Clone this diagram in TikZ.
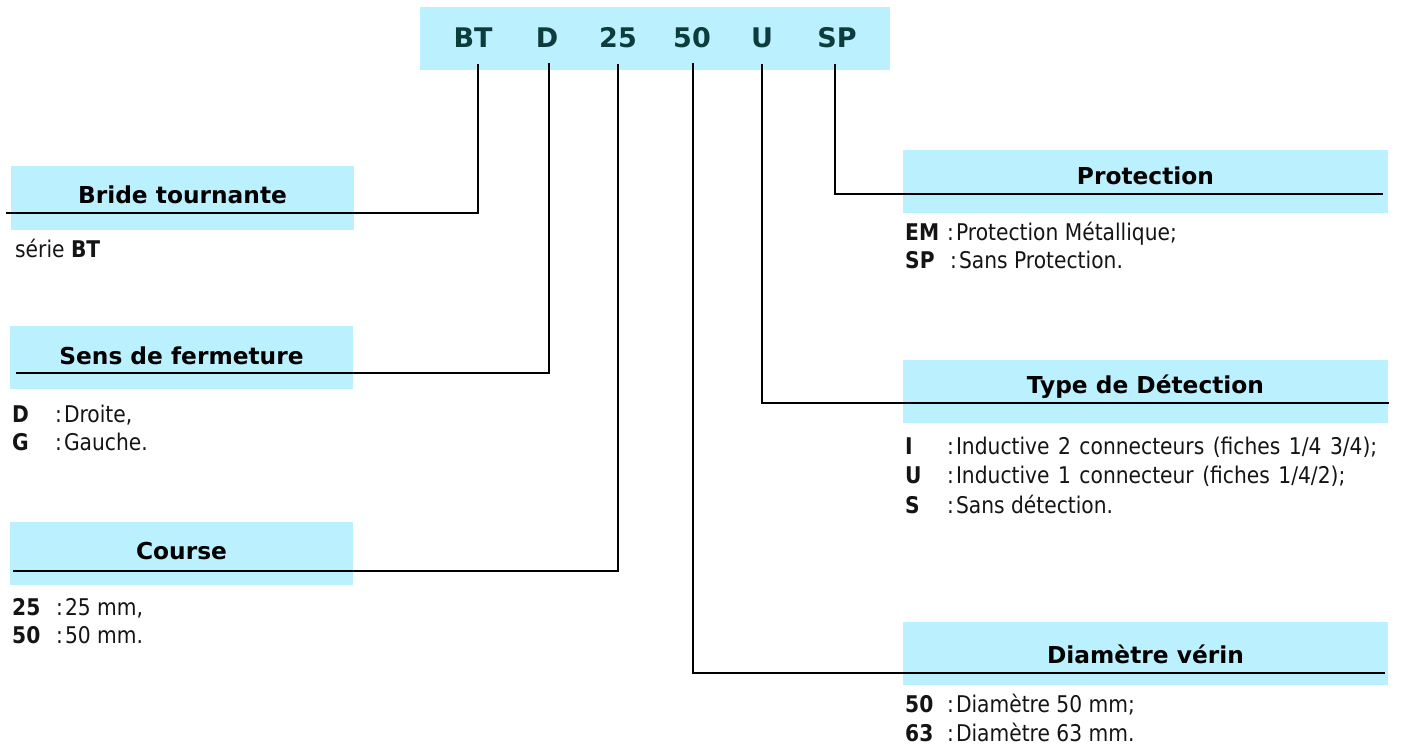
\documentclass[tikz,border=0pt]{standalone}
\usepackage{fontspec}
\setmainfont{DejaVu Sans}
\newfontfamily\descfont[FakeStretch=0.88]{DejaVu Sans}
\definecolor{boxblue}{RGB}{187,240,255}
\definecolor{codecol}{RGB}{12,60,60}
\definecolor{txt}{RGB}{20,20,20}
\tikzset{
  bluebox/.style={fill=boxblue, draw=none, inner sep=0pt, anchor=north west},
  codetxt/.style={font=\fontsize{27}{27}\selectfont\bfseries, text=codecol, anchor=base, inner sep=0pt},
  titletxt/.style={font=\fontsize{23.3}{23.3}\selectfont\bfseries, text=black, anchor=base, inner sep=0pt},
  lbl/.style={font=\descfont\fontsize{23}{23}\selectfont\bfseries, text=txt, anchor=base west, inner sep=0pt},
  desc/.style={font=\descfont\fontsize{23}{23}\selectfont, text=txt, anchor=base west, inner sep=0pt},
  conn/.style={draw=black, line width=2pt},
}
\begin{document}
\begin{tikzpicture}[x=1pt,y=-1pt]
\useasboundingbox (0,0) rectangle (1409,744);
% top code bar
\node[bluebox, minimum width=470pt, minimum height=63pt] (bar) at (420,7) {};
\node[codetxt] (cBT) at (473,47) {BT};
\node[codetxt] (cD) at (547,47) {D};
\node[codetxt] (c25) at (618,47) {25};
\node[codetxt] (c50) at (692,47) {50};
\node[codetxt] (cU) at (762,47) {U};
\node[codetxt] (cSP) at (837,47) {SP};
% left boxes
\node[bluebox, minimum width=343pt, minimum height=64pt] (bBride) at (11,166) {};
\node[titletxt] (tBride) at (182.5,203) {Bride tournante};
\node[desc] (dBT) at (15,257) {série \textbf{BT}};

\node[bluebox, minimum width=343pt, minimum height=63pt] (bSens) at (10,326) {};
\node[titletxt] (tSens) at (181.5,364) {Sens de fermeture};
\node[lbl] (lD) at (12,422) {D};
\node[desc] (dD) at (55,422) {:\hspace{2pt}Droite,};
\node[lbl] (lG) at (12,450) {G};
\node[desc] (dG) at (55,450) {:\hspace{2pt}Gauche.};

\node[bluebox, minimum width=343pt, minimum height=63pt] (bCourse) at (10,522) {};
\node[titletxt] (tCourse) at (181.5,559) {Course};
\node[lbl] (l25) at (12,615) {25};
\node[desc] (d25) at (56,615) {:\hspace{2pt}25 mm,};
\node[lbl] (l50) at (12,643) {50};
\node[desc] (d50) at (56,643) {:\hspace{2pt}50 mm.};

% right boxes
\node[bluebox, minimum width=485pt, minimum height=63pt] (bProt) at (903,150) {};
\node[titletxt] (tProt) at (1145.5,184) {Protection};
\node[lbl] (lEM) at (905,240) {EM};
\node[desc] (dEM) at (947,240) {:\hspace{2pt}Protection Métallique;};
\node[lbl] (lSP) at (905,268) {SP};
\node[desc] (dSP) at (950,268) {:\hspace{2pt}Sans Protection.};

\node[bluebox, minimum width=485pt, minimum height=63pt] (bType) at (903,360) {};
\node[titletxt] (tType) at (1145.5,393) {Type de Détection};
\node[lbl] (lI) at (905,454) {I};
\node[desc] (dI) at (947,454) {\spaceskip=8.5pt :\hspace{2pt}Inductive 2 connecteurs (fiches 1/4 3/4);};
\node[lbl] (lU) at (905,483) {U};
\node[desc] (dU) at (947,483) {\spaceskip=8.5pt :\hspace{2pt}Inductive 1 connecteur (fiches 1/4/2);};
\node[lbl] (lS) at (905,513) {S};
\node[desc] (dS) at (947,513) {:\hspace{2pt}Sans détection.};

\node[bluebox, minimum width=485pt, minimum height=63pt] (bDiam) at (903,622) {};
\node[titletxt] (tDiam) at (1145.5,663) {Diamètre vérin};
\node[lbl] (l50b) at (905,712) {50};
\node[desc] (d50b) at (947,712) {:\hspace{2pt}Diamètre 50 mm;};
\node[lbl] (l63) at (905,741) {63};
\node[desc] (d63) at (947,741) {:\hspace{2pt}Diamètre 63 mm.};

% connector coordinates
\coordinate (sBT) at (478,64);  \coordinate (eBT) at (6,213);
\coordinate (sD) at (549,63);   \coordinate (eD) at (16,373);
\coordinate (s25) at (618,64);  \coordinate (e25) at (13,571);
\coordinate (s50) at (693,63);  \coordinate (e50) at (1385,673);
\coordinate (sU) at (762,64);   \coordinate (eU) at (1389,403);
\coordinate (sSP) at (835,64);  \coordinate (eSP) at (1383,194);
\draw[conn] (sBT) |- (eBT);
\draw[conn] (sD) |- (eD);
\draw[conn] (s25) |- (e25);
\draw[conn] (s50) |- (e50);
\draw[conn] (sU) |- (eU);
\draw[conn] (sSP) |- (eSP);
\end{tikzpicture}
\end{document}
